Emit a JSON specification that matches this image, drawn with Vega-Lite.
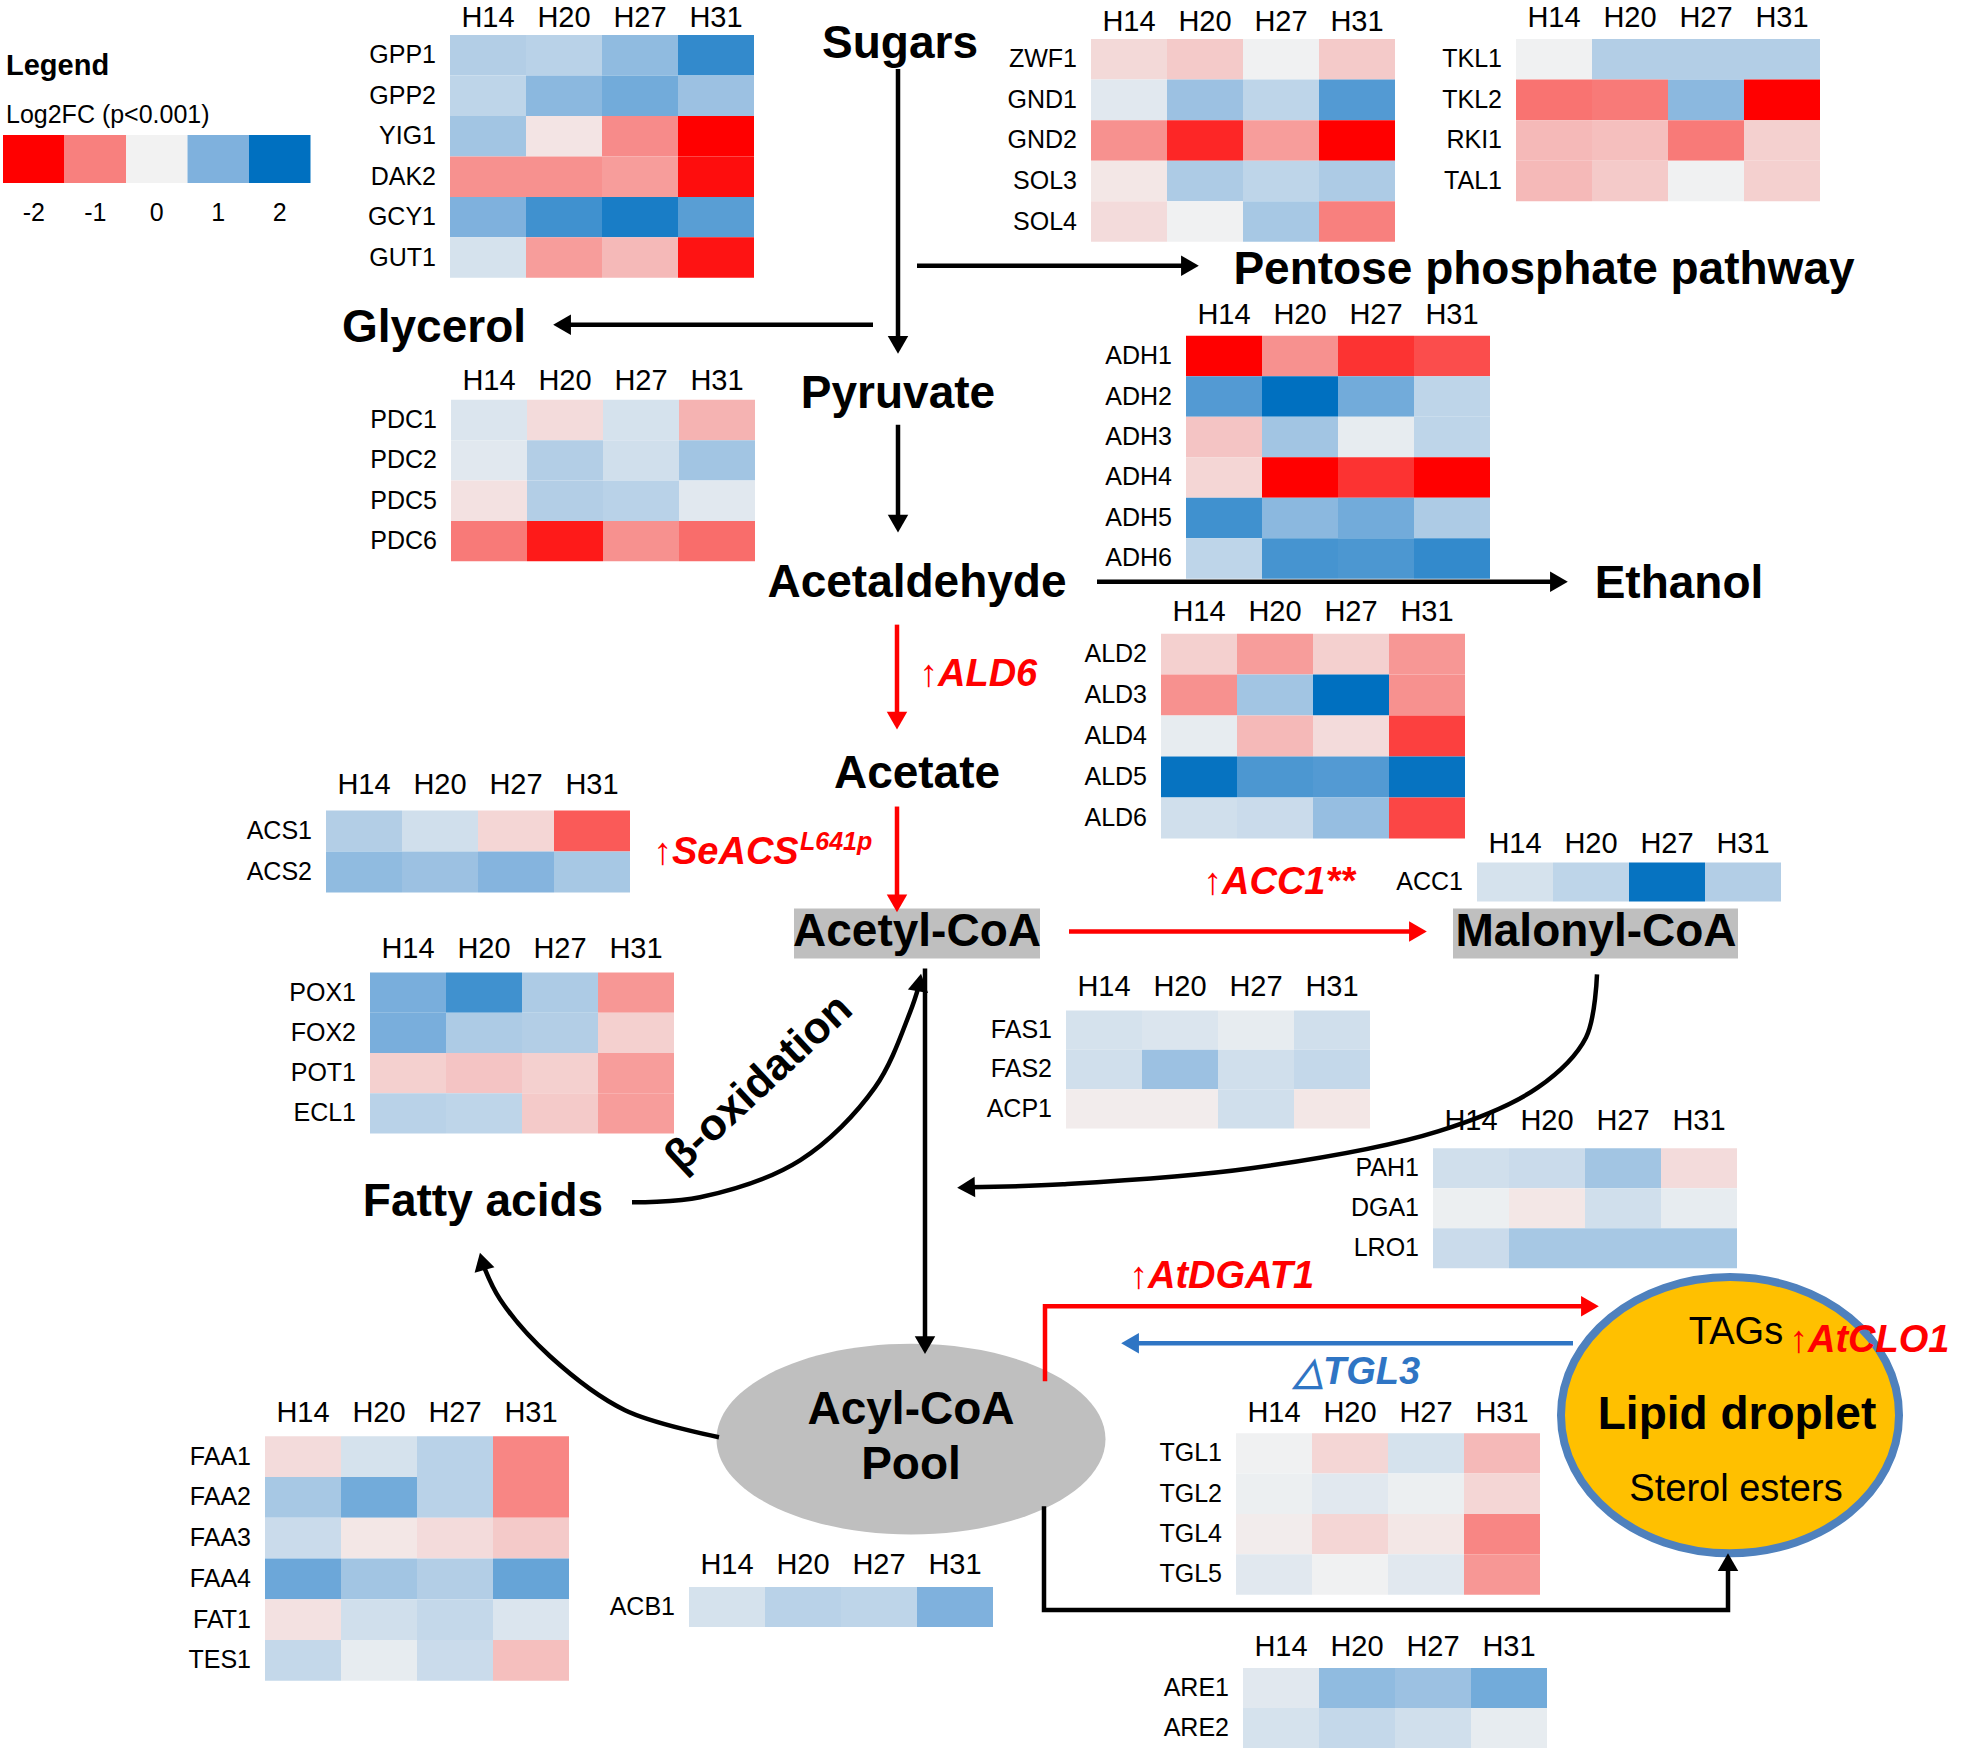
{
  "$schema": "https://vega.github.io/schema/vega-lite/v6.json",
  "width": 1961,
  "height": 1748,
  "autosize": {"type": "fit", "contains": "padding"},
  "padding": 0,
  "background": "white",
  "config": {"view": {"stroke": null}, "text": {"font": "Liberation Sans"}},
  "datasets": {
    "panels": [
      {"p": "GPP", "x0": 450, "y0": 35, "cw": 76, "rh": 40.5, "hy": 18},
      {"p": "ZWF", "x0": 1091, "y0": 39, "cw": 76, "rh": 40.6, "hy": 22},
      {"p": "TKL", "x0": 1516, "y0": 39, "cw": 76, "rh": 40.6, "hy": 18},
      {"p": "PDC", "x0": 451, "y0": 400, "cw": 76, "rh": 40.4, "hy": 381},
      {"p": "ADH", "x0": 1186, "y0": 336, "cw": 76, "rh": 40.5, "hy": 315},
      {"p": "ALD", "x0": 1161, "y0": 634, "cw": 76, "rh": 41, "hy": 612},
      {"p": "ACS", "x0": 326, "y0": 811, "cw": 76, "rh": 41, "hy": 785},
      {"p": "ACC", "x0": 1477, "y0": 863, "cw": 76, "rh": 39, "hy": 844},
      {"p": "POX", "x0": 370, "y0": 973, "cw": 76, "rh": 40.3, "hy": 950},
      {"p": "FAS", "x0": 1066, "y0": 1011, "cw": 76, "rh": 39.4, "hy": 988},
      {"p": "PAH", "x0": 1433, "y0": 1149, "cw": 76, "rh": 40, "hy": 1122},
      {"p": "FAA", "x0": 265, "y0": 1437, "cw": 76, "rh": 40.8, "hy": 1414},
      {"p": "ACB", "x0": 689, "y0": 1588, "cw": 76, "rh": 40, "hy": 1566},
      {"p": "TGL", "x0": 1236, "y0": 1434, "cw": 76, "rh": 40.4, "hy": 1414},
      {"p": "ARE", "x0": 1243, "y0": 1669, "cw": 76, "rh": 40, "hy": 1648},
      {"p": "Legend", "x0": 3, "y0": 135, "cw": 61.5, "rh": 48, "hy": 213}
    ],
    "genes": [
      {"p": "GPP", "gene": "GPP1", "r": 0, "H14": 0.55, "H20": 0.5, "H27": 0.85, "H31": 1.6},
      {"p": "GPP", "gene": "GPP2", "r": 1, "H14": 0.45, "H20": 0.9, "H27": 1.1, "H31": 0.75},
      {"p": "GPP", "gene": "YIG1", "r": 2, "H14": 0.7, "H20": -0.12, "H27": -0.9, "H31": -2},
      {"p": "GPP", "gene": "DAK2", "r": 3, "H14": -0.85, "H20": -0.85, "H27": -0.75, "H31": -1.9},
      {"p": "GPP", "gene": "GCY1", "r": 4, "H14": 1.0, "H20": 1.5, "H27": 1.8, "H31": 1.3},
      {"p": "GPP", "gene": "GUT1", "r": 5, "H14": 0.25, "H20": -0.75, "H27": -0.5, "H31": -1.85},
      {"p": "ZWF", "gene": "ZWF1", "r": 0, "H14": -0.22, "H20": -0.35, "H27": 0.02, "H31": -0.35},
      {"p": "ZWF", "gene": "GND1", "r": 1, "H14": 0.15, "H20": 0.75, "H27": 0.45, "H31": 1.35},
      {"p": "ZWF", "gene": "GND2", "r": 2, "H14": -0.85, "H20": -1.7, "H27": -0.75, "H31": -2},
      {"p": "ZWF", "gene": "SOL3", "r": 3, "H14": -0.1, "H20": 0.6, "H27": 0.45, "H31": 0.6},
      {"p": "ZWF", "gene": "SOL4", "r": 4, "H14": -0.2, "H20": 0.02, "H27": 0.65, "H31": -1.0},
      {"p": "TKL", "gene": "TKL1", "r": 0, "H14": 0.02, "H20": 0.55, "H27": 0.55, "H31": 0.55},
      {"p": "TKL", "gene": "TKL2", "r": 1, "H14": -1.1, "H20": -1.05, "H27": 0.9, "H31": -2},
      {"p": "TKL", "gene": "RKI1", "r": 2, "H14": -0.5, "H20": -0.45, "H27": -1.05, "H31": -0.3},
      {"p": "TKL", "gene": "TAL1", "r": 3, "H14": -0.5, "H20": -0.35, "H27": 0.02, "H31": -0.3},
      {"p": "PDC", "gene": "PDC1", "r": 0, "H14": 0.2, "H20": -0.2, "H27": 0.25, "H31": -0.55},
      {"p": "PDC", "gene": "PDC2", "r": 1, "H14": 0.15, "H20": 0.55, "H27": 0.3, "H31": 0.7},
      {"p": "PDC", "gene": "PDC5", "r": 2, "H14": -0.15, "H20": 0.55, "H27": 0.5, "H31": 0.15},
      {"p": "PDC", "gene": "PDC6", "r": 3, "H14": -1.05, "H20": -1.8, "H27": -0.85, "H31": -1.15},
      {"p": "ADH", "gene": "ADH1", "r": 0, "H14": -2, "H20": -0.85, "H27": -1.6, "H31": -1.4},
      {"p": "ADH", "gene": "ADH2", "r": 1, "H14": 1.35, "H20": 2.0, "H27": 1.1, "H31": 0.45},
      {"p": "ADH", "gene": "ADH3", "r": 2, "H14": -0.4, "H20": 0.7, "H27": 0.1, "H31": 0.45},
      {"p": "ADH", "gene": "ADH4", "r": 3, "H14": -0.25, "H20": -2, "H27": -1.6, "H31": -2},
      {"p": "ADH", "gene": "ADH5", "r": 4, "H14": 1.5, "H20": 0.9, "H27": 1.1, "H31": 0.6},
      {"p": "ADH", "gene": "ADH6", "r": 5, "H14": 0.45, "H20": 1.45, "H27": 1.4, "H31": 1.6},
      {"p": "ALD", "gene": "ALD2", "r": 0, "H14": -0.3, "H20": -0.75, "H27": -0.3, "H31": -0.8},
      {"p": "ALD", "gene": "ALD3", "r": 1, "H14": -0.85, "H20": 0.7, "H27": 2.0, "H31": -0.85},
      {"p": "ALD", "gene": "ALD4", "r": 2, "H14": 0.1, "H20": -0.5, "H27": -0.2, "H31": -1.5},
      {"p": "ALD", "gene": "ALD5", "r": 3, "H14": 1.95, "H20": 1.4, "H27": 1.35, "H31": 1.95},
      {"p": "ALD", "gene": "ALD6", "r": 4, "H14": 0.3, "H20": 0.35, "H27": 0.8, "H31": -1.45},
      {"p": "ACS", "gene": "ACS1", "r": 0, "H14": 0.55, "H20": 0.3, "H27": -0.25, "H31": -1.3},
      {"p": "ACS", "gene": "ACS2", "r": 1, "H14": 0.85, "H20": 0.75, "H27": 0.95, "H31": 0.65},
      {"p": "ACC", "gene": "ACC1", "r": 0, "H14": 0.25, "H20": 0.45, "H27": 1.95, "H31": 0.55},
      {"p": "POX", "gene": "POX1", "r": 0, "H14": 1.05, "H20": 1.5, "H27": 0.6, "H31": -0.8},
      {"p": "POX", "gene": "FOX2", "r": 1, "H14": 1.05, "H20": 0.6, "H27": 0.55, "H31": -0.3},
      {"p": "POX", "gene": "POT1", "r": 2, "H14": -0.3, "H20": -0.4, "H27": -0.3, "H31": -0.75},
      {"p": "POX", "gene": "ECL1", "r": 3, "H14": 0.5, "H20": 0.45, "H27": -0.35, "H31": -0.75},
      {"p": "FAS", "gene": "FAS1", "r": 0, "H14": 0.25, "H20": 0.2, "H27": 0.1, "H31": 0.3},
      {"p": "FAS", "gene": "FAS2", "r": 1, "H14": 0.3, "H20": 0.75, "H27": 0.3, "H31": 0.4},
      {"p": "FAS", "gene": "ACP1", "r": 2, "H14": -0.05, "H20": -0.05, "H27": 0.3, "H31": -0.1},
      {"p": "PAH", "gene": "PAH1", "r": 0, "H14": 0.3, "H20": 0.35, "H27": 0.7, "H31": -0.2},
      {"p": "PAH", "gene": "DGA1", "r": 1, "H14": 0.05, "H20": -0.1, "H27": 0.3, "H31": 0.1},
      {"p": "PAH", "gene": "LRO1", "r": 2, "H14": 0.35, "H20": 0.65, "H27": 0.65, "H31": 0.65},
      {"p": "FAA", "gene": "FAA1", "r": 0, "H14": -0.2, "H20": 0.25, "H27": 0.5, "H31": -0.95},
      {"p": "FAA", "gene": "FAA2", "r": 1, "H14": 0.65, "H20": 1.1, "H27": 0.5, "H31": -0.95},
      {"p": "FAA", "gene": "FAA3", "r": 2, "H14": 0.35, "H20": -0.1, "H27": -0.2, "H31": -0.35},
      {"p": "FAA", "gene": "FAA4", "r": 3, "H14": 1.15, "H20": 0.7, "H27": 0.55, "H31": 1.2},
      {"p": "FAA", "gene": "FAT1", "r": 4, "H14": -0.15, "H20": 0.3, "H27": 0.4, "H31": 0.2},
      {"p": "FAA", "gene": "TES1", "r": 5, "H14": 0.4, "H20": 0.1, "H27": 0.35, "H31": -0.45},
      {"p": "ACB", "gene": "ACB1", "r": 0, "H14": 0.25, "H20": 0.5, "H27": 0.45, "H31": 1.0},
      {"p": "TGL", "gene": "TGL1", "r": 0, "H14": 0.02, "H20": -0.25, "H27": 0.25, "H31": -0.5},
      {"p": "TGL", "gene": "TGL2", "r": 1, "H14": 0.05, "H20": 0.15, "H27": 0.05, "H31": -0.25},
      {"p": "TGL", "gene": "TGL4", "r": 2, "H14": -0.05, "H20": -0.25, "H27": -0.1, "H31": -0.95},
      {"p": "TGL", "gene": "TGL5", "r": 3, "H14": 0.15, "H20": 0.02, "H27": 0.15, "H31": -0.8},
      {"p": "ARE", "gene": "ARE1", "r": 0, "H14": 0.15, "H20": 0.85, "H27": 0.75, "H31": 1.1},
      {"p": "ARE", "gene": "ARE2", "r": 1, "H14": 0.25, "H20": 0.4, "H27": 0.3, "H31": 0.1}
    ],
    "legend": [
      {"p": "Legend", "c": 0, "v": -2},
      {"p": "Legend", "c": 1, "v": -1},
      {"p": "Legend", "c": 2, "v": 0},
      {"p": "Legend", "c": 3, "v": 1},
      {"p": "Legend", "c": 4, "v": 2}
    ],
    "boxes": [
      {"name": "Acetyl-CoA", "x": 794, "x2": 1040, "y": 909, "y2": 959},
      {"name": "Malonyl-CoA", "x": 1453, "x2": 1738, "y": 909, "y2": 959}
    ],
    "blobs": [
      {"name": "Pool", "x": 911, "y": 1440},
      {"name": "Lipid", "x": 1730, "y": 1416}
    ],
    "paths": [
      {"id": "p1", "kind": "black", "i": 0, "x": 898, "y": 69},
      {"id": "p1", "kind": "black", "i": 1, "x": 898, "y": 342},
      {"id": "p2", "kind": "black", "i": 0, "x": 917, "y": 266},
      {"id": "p2", "kind": "black", "i": 1, "x": 1187, "y": 266},
      {"id": "p3", "kind": "black", "i": 0, "x": 873, "y": 325},
      {"id": "p3", "kind": "black", "i": 1, "x": 565, "y": 325},
      {"id": "p4", "kind": "black", "i": 0, "x": 898, "y": 425},
      {"id": "p4", "kind": "black", "i": 1, "x": 898, "y": 521},
      {"id": "p5", "kind": "black", "i": 0, "x": 1097, "y": 582},
      {"id": "p5", "kind": "black", "i": 1, "x": 1556, "y": 582},
      {"id": "p6", "kind": "red", "i": 0, "x": 897, "y": 625},
      {"id": "p6", "kind": "red", "i": 1, "x": 897, "y": 718},
      {"id": "p7", "kind": "red", "i": 0, "x": 897, "y": 807},
      {"id": "p7", "kind": "red", "i": 1, "x": 897, "y": 901},
      {"id": "p8", "kind": "red", "i": 0, "x": 1069, "y": 932},
      {"id": "p8", "kind": "red", "i": 1, "x": 1415, "y": 932},
      {"id": "p9", "kind": "black", "i": 0, "x": 925, "y": 969},
      {"id": "p9", "kind": "black", "i": 1, "x": 925, "y": 1343},
      {"id": "p13", "kind": "red", "i": 0, "x": 1045, "y": 1382},
      {"id": "p13", "kind": "red", "i": 1, "x": 1045, "y": 1307},
      {"id": "p13", "kind": "red", "i": 2, "x": 1587, "y": 1307},
      {"id": "p14", "kind": "blue", "i": 0, "x": 1573, "y": 1344},
      {"id": "p14", "kind": "blue", "i": 1, "x": 1133, "y": 1344},
      {"id": "p15", "kind": "black", "i": 0, "x": 1044, "y": 1507},
      {"id": "p15", "kind": "black", "i": 1, "x": 1044, "y": 1611},
      {"id": "p15", "kind": "black", "i": 2, "x": 1728, "y": 1611},
      {"id": "p15", "kind": "black", "i": 3, "x": 1728, "y": 1566}
    ],
    "curves": [
      {"id": "c10", "kind": "black", "i": 0, "x": 632, "y": 1203},
      {"id": "c10", "kind": "black", "i": 1, "x": 700, "y": 1198},
      {"id": "c10", "kind": "black", "i": 2, "x": 800, "y": 1161},
      {"id": "c10", "kind": "black", "i": 3, "x": 875, "y": 1088},
      {"id": "c10", "kind": "black", "i": 4, "x": 910, "y": 1013},
      {"id": "c10", "kind": "black", "i": 5, "x": 919, "y": 986},
      {"id": "c11", "kind": "black", "i": 0, "x": 1597, "y": 975},
      {"id": "c11", "kind": "black", "i": 1, "x": 1586, "y": 1038},
      {"id": "c11", "kind": "black", "i": 2, "x": 1538, "y": 1088},
      {"id": "c11", "kind": "black", "i": 3, "x": 1438, "y": 1132},
      {"id": "c11", "kind": "black", "i": 4, "x": 1251, "y": 1169},
      {"id": "c11", "kind": "black", "i": 5, "x": 1063, "y": 1185},
      {"id": "c11", "kind": "black", "i": 6, "x": 969, "y": 1188},
      {"id": "c12", "kind": "black", "i": 0, "x": 719, "y": 1438},
      {"id": "c12", "kind": "black", "i": 1, "x": 625, "y": 1411},
      {"id": "c12", "kind": "black", "i": 2, "x": 550, "y": 1357},
      {"id": "c12", "kind": "black", "i": 3, "x": 500, "y": 1300},
      {"id": "c12", "kind": "black", "i": 4, "x": 483, "y": 1265}
    ],
    "heads": [
      {"kind": "black", "x": 898, "y": 342, "a": 180},
      {"kind": "black", "x": 1187, "y": 266, "a": 90},
      {"kind": "black", "x": 565, "y": 325, "a": 270},
      {"kind": "black", "x": 898, "y": 521, "a": 180},
      {"kind": "black", "x": 1556, "y": 582, "a": 90},
      {"kind": "red", "x": 897, "y": 718, "a": 180},
      {"kind": "red", "x": 897, "y": 901, "a": 180},
      {"kind": "red", "x": 1415, "y": 932, "a": 90},
      {"kind": "black", "x": 925, "y": 1343, "a": 180},
      {"kind": "black", "x": 919, "y": 986, "a": 10},
      {"kind": "black", "x": 969, "y": 1188, "a": 268},
      {"kind": "black", "x": 483, "y": 1265, "a": 345},
      {"kind": "red", "x": 1587, "y": 1307, "a": 90},
      {"kind": "blue", "x": 1133, "y": 1344, "a": 270},
      {"kind": "black", "x": 1728, "y": 1566, "a": 0}
    ],
    "nodes": [
      {"t": "Sugars", "x": 900, "y": 44},
      {"t": "Pentose phosphate pathway", "x": 1544, "y": 270},
      {"t": "Glycerol", "x": 434, "y": 328},
      {"t": "Pyruvate", "x": 898, "y": 394},
      {"t": "Acetaldehyde", "x": 917, "y": 583},
      {"t": "Ethanol", "x": 1679, "y": 584},
      {"t": "Acetate", "x": 917, "y": 774},
      {"t": "Acetyl-CoA", "x": 917, "y": 933},
      {"t": "Malonyl-CoA", "x": 1596, "y": 933},
      {"t": "Fatty acids", "x": 483, "y": 1203},
      {"t": "Acyl-CoA", "x": 911, "y": 1411},
      {"t": "Pool", "x": 911, "y": 1466},
      {"t": "Lipid droplet", "x": 1737, "y": 1416}
    ],
    "redlabels": [
      {"t": "↑ALD6", "x": 919, "y": 675},
      {"t": "↑SeACS", "x": 653, "y": 853},
      {"t": "↑ACC1**", "x": 1203, "y": 884},
      {"t": "↑AtDGAT1", "x": 1129, "y": 1278},
      {"t": "↑AtCLO1", "x": 1789, "y": 1342}
    ],
    "plain": [
      {"t": "TAGs", "x": 1736, "y": 1334},
      {"t": "Sterol esters", "x": 1736, "y": 1491}
    ]
  },
  "layer": [
    {
      "data": {"name": "boxes"},
      "mark": {"type": "rect", "color": "#bfbfbf"},
      "encoding": {
        "x": {"field": "x", "type": "quantitative", "scale": {"domain": [0, 1961], "nice": false, "zero": false}, "axis": null},
        "x2": {"field": "x2"},
        "y": {"field": "y", "type": "quantitative", "scale": {"domain": [0, 1748], "nice": false, "zero": false, "reverse": true}, "axis": null},
        "y2": {"field": "y2"}
      }
    },
    {
      "data": {"name": "blobs"},
      "transform": [{"filter": "datum.name === 'Pool'"}],
      "mark": {"type": "point", "filled": true, "color": "#bfbfbf", "opacity": 1, "size": 151321, "shape": "M -1 0 A 1 0.49 0 1 1 1 0 A 1 0.49 0 1 1 -1 0 Z"},
      "encoding": {
        "x": {"field": "x", "type": "quantitative", "axis": null},
        "y": {"field": "y", "type": "quantitative", "axis": null}
      }
    },
    {
      "data": {"name": "blobs"},
      "transform": [{"filter": "datum.name === 'Lipid'"}],
      "mark": {"type": "point", "filled": true, "fill": "#ffc000", "stroke": "#4f81bd", "strokeWidth": 8, "opacity": 1, "fillOpacity": 1, "strokeOpacity": 1, "size": 114244, "shape": "M -1 0 A 1 0.817 0 1 1 1 0 A 1 0.817 0 1 1 -1 0 Z"},
      "encoding": {
        "x": {"field": "x", "type": "quantitative", "axis": null},
        "y": {"field": "y", "type": "quantitative", "axis": null}
      }
    },
    {
      "data": {"name": "paths"},
      "mark": {"type": "line", "strokeWidth": 4.5, "interpolate": "linear", "strokeCap": "butt", "strokeJoin": "miter"},
      "encoding": {
        "x": {"field": "x", "type": "quantitative", "axis": null},
        "y": {"field": "y", "type": "quantitative", "axis": null},
        "detail": {"field": "id"},
        "order": {"field": "i", "type": "quantitative"},
        "color": {"field": "kind", "type": "nominal", "scale": {"domain": ["black", "red", "blue"], "range": ["#000000", "#ff0000", "#2f75c4"]}, "legend": null}
      }
    },
    {
      "data": {"name": "curves"},
      "mark": {"type": "line", "strokeWidth": 4.5, "interpolate": "catmull-rom", "color": "#000000"},
      "encoding": {
        "x": {"field": "x", "type": "quantitative", "axis": null},
        "y": {"field": "y", "type": "quantitative", "axis": null},
        "detail": {"field": "id"},
        "order": {"field": "i", "type": "quantitative"}
      }
    },
    {
      "data": {"name": "heads"},
      "mark": {"type": "point", "shape": "triangle", "filled": true, "opacity": 1, "size": 420},
      "encoding": {
        "x": {"field": "x", "type": "quantitative", "axis": null},
        "y": {"field": "y", "type": "quantitative", "axis": null},
        "angle": {"field": "a", "type": "quantitative", "scale": null},
        "color": {"field": "kind", "type": "nominal", "scale": {"domain": ["black", "red", "blue"], "range": ["#000000", "#ff0000", "#2f75c4"]}, "legend": null}
      }
    },
    {
      "data": {"name": "genes"},
      "transform": [
        {"fold": ["H14", "H20", "H27", "H31"], "as": ["s", "v"]},
        {"calculate": "indexof(['H14','H20','H27','H31'], datum.s)", "as": "c"},
        {"lookup": "p", "from": {"data": {"name": "panels"}, "key": "p", "fields": ["x0", "y0", "cw", "rh", "hy"]}},
        {"calculate": "datum.x0 + datum.c * datum.cw", "as": "xa"},
        {"calculate": "datum.xa + datum.cw", "as": "xb"},
        {"calculate": "datum.y0 + datum.r * datum.rh", "as": "ya"},
        {"calculate": "datum.ya + datum.rh", "as": "yb"}
      ],
      "mark": {"type": "rect"},
      "encoding": {
        "x": {"field": "xa", "type": "quantitative", "axis": null},
        "x2": {"field": "xb"},
        "y": {"field": "ya", "type": "quantitative", "axis": null},
        "y2": {"field": "yb"},
        "color": {"field": "v", "type": "quantitative", "scale": {"domain": [-2, -1, 0, 1, 2], "range": ["#ff0000", "#f8807e", "#f2f2f2", "#7fb1dd", "#0070c0"], "interpolate": "rgb"}, "legend": null}
      }
    },
    {
      "data": {"name": "legend"},
      "transform": [
        {"lookup": "p", "from": {"data": {"name": "panels"}, "key": "p", "fields": ["x0", "y0", "cw", "rh", "hy"]}},
        {"calculate": "datum.x0 + datum.c * datum.cw", "as": "xa"},
        {"calculate": "datum.xa + datum.cw", "as": "xb"},
        {"calculate": "datum.y0 + datum.rh", "as": "yb"}
      ],
      "mark": {"type": "rect"},
      "encoding": {
        "x": {"field": "xa", "type": "quantitative", "axis": null},
        "x2": {"field": "xb"},
        "y": {"field": "y0", "type": "quantitative", "axis": null},
        "y2": {"field": "yb"},
        "color": {"field": "v", "type": "quantitative", "scale": {"domain": [-2, -1, 0, 1, 2], "range": ["#ff0000", "#f8807e", "#f2f2f2", "#7fb1dd", "#0070c0"], "interpolate": "rgb"}, "legend": null}
      }
    },
    {
      "data": {"name": "legend"},
      "transform": [
        {"lookup": "p", "from": {"data": {"name": "panels"}, "key": "p", "fields": ["x0", "y0", "cw", "rh", "hy"]}},
        {"calculate": "datum.x0 + (datum.c + 0.5) * datum.cw", "as": "xm"}
      ],
      "mark": {"type": "text", "fontSize": 25, "align": "center", "baseline": "middle", "color": "#000000"},
      "encoding": {
        "x": {"field": "xm", "type": "quantitative", "axis": null},
        "y": {"field": "hy", "type": "quantitative", "axis": null},
        "text": {"field": "v"}
      }
    },
    {
      "data": {"values": [{"t": "Legend", "x": 6, "y": 66}]},
      "mark": {"type": "text", "fontSize": 29, "fontWeight": "bold", "align": "left", "baseline": "middle", "color": "#000000"},
      "encoding": {
        "x": {"field": "x", "type": "quantitative", "axis": null},
        "y": {"field": "y", "type": "quantitative", "axis": null},
        "text": {"field": "t"}
      }
    },
    {
      "data": {"values": [{"t": "Log2FC (p<0.001)", "x": 6, "y": 115}]},
      "mark": {"type": "text", "fontSize": 25, "align": "left", "baseline": "middle", "color": "#000000"},
      "encoding": {
        "x": {"field": "x", "type": "quantitative", "axis": null},
        "y": {"field": "y", "type": "quantitative", "axis": null},
        "text": {"field": "t"}
      }
    },
    {
      "data": {"name": "genes"},
      "transform": [
        {"filter": "datum.r === 0"},
        {"fold": ["H14", "H20", "H27", "H31"], "as": ["s", "v"]},
        {"calculate": "indexof(['H14','H20','H27','H31'], datum.s)", "as": "c"},
        {"lookup": "p", "from": {"data": {"name": "panels"}, "key": "p", "fields": ["x0", "y0", "cw", "rh", "hy"]}},
        {"calculate": "datum.x0 + (datum.c + 0.5) * datum.cw", "as": "xm"}
      ],
      "mark": {"type": "text", "fontSize": 29, "align": "center", "baseline": "middle", "color": "#000000"},
      "encoding": {
        "x": {"field": "xm", "type": "quantitative", "axis": null},
        "y": {"field": "hy", "type": "quantitative", "axis": null},
        "text": {"field": "s"}
      }
    },
    {
      "data": {"name": "genes"},
      "transform": [
        {"lookup": "p", "from": {"data": {"name": "panels"}, "key": "p", "fields": ["x0", "y0", "cw", "rh", "hy"]}},
        {"calculate": "datum.x0 - 14", "as": "xl"},
        {"calculate": "datum.y0 + (datum.r + 0.5) * datum.rh", "as": "ym"}
      ],
      "mark": {"type": "text", "fontSize": 25, "align": "right", "baseline": "middle", "color": "#000000"},
      "encoding": {
        "x": {"field": "xl", "type": "quantitative", "axis": null},
        "y": {"field": "ym", "type": "quantitative", "axis": null},
        "text": {"field": "gene"}
      }
    },
    {
      "data": {"name": "nodes"},
      "mark": {"type": "text", "fontSize": 46, "fontWeight": "bold", "align": "center", "baseline": "middle", "color": "#000000"},
      "encoding": {
        "x": {"field": "x", "type": "quantitative", "axis": null},
        "y": {"field": "y", "type": "quantitative", "axis": null},
        "text": {"field": "t"}
      }
    },
    {
      "data": {"values": [{"t": "β-oxidation", "x": 759, "y": 1084}]},
      "mark": {"type": "text", "fontSize": 44, "fontWeight": "bold", "align": "center", "baseline": "middle", "angle": 317, "color": "#000000"},
      "encoding": {
        "x": {"field": "x", "type": "quantitative", "axis": null},
        "y": {"field": "y", "type": "quantitative", "axis": null},
        "text": {"field": "t"}
      }
    },
    {
      "data": {"name": "redlabels"},
      "mark": {"type": "text", "fontSize": 38, "fontWeight": "bold", "fontStyle": "italic", "align": "left", "baseline": "middle", "color": "#ff0000"},
      "encoding": {
        "x": {"field": "x", "type": "quantitative", "axis": null},
        "y": {"field": "y", "type": "quantitative", "axis": null},
        "text": {"field": "t"}
      }
    },
    {
      "data": {"values": [{"t": "L641p", "x": 800, "y": 842}]},
      "mark": {"type": "text", "fontSize": 25, "fontWeight": "bold", "fontStyle": "italic", "align": "left", "baseline": "middle", "color": "#ff0000"},
      "encoding": {
        "x": {"field": "x", "type": "quantitative", "axis": null},
        "y": {"field": "y", "type": "quantitative", "axis": null},
        "text": {"field": "t"}
      }
    },
    {
      "data": {"values": [{"t": "△TGL3", "x": 1294, "y": 1374}]},
      "mark": {"type": "text", "fontSize": 38, "fontWeight": "bold", "fontStyle": "italic", "align": "left", "baseline": "middle", "color": "#2f75c4"},
      "encoding": {
        "x": {"field": "x", "type": "quantitative", "axis": null},
        "y": {"field": "y", "type": "quantitative", "axis": null},
        "text": {"field": "t"}
      }
    },
    {
      "data": {"name": "plain"},
      "mark": {"type": "text", "fontSize": 38, "align": "center", "baseline": "middle", "color": "#000000"},
      "encoding": {
        "x": {"field": "x", "type": "quantitative", "axis": null},
        "y": {"field": "y", "type": "quantitative", "axis": null},
        "text": {"field": "t"}
      }
    }
  ],
  "resolve": {"scale": {"color": "independent"}}
}
